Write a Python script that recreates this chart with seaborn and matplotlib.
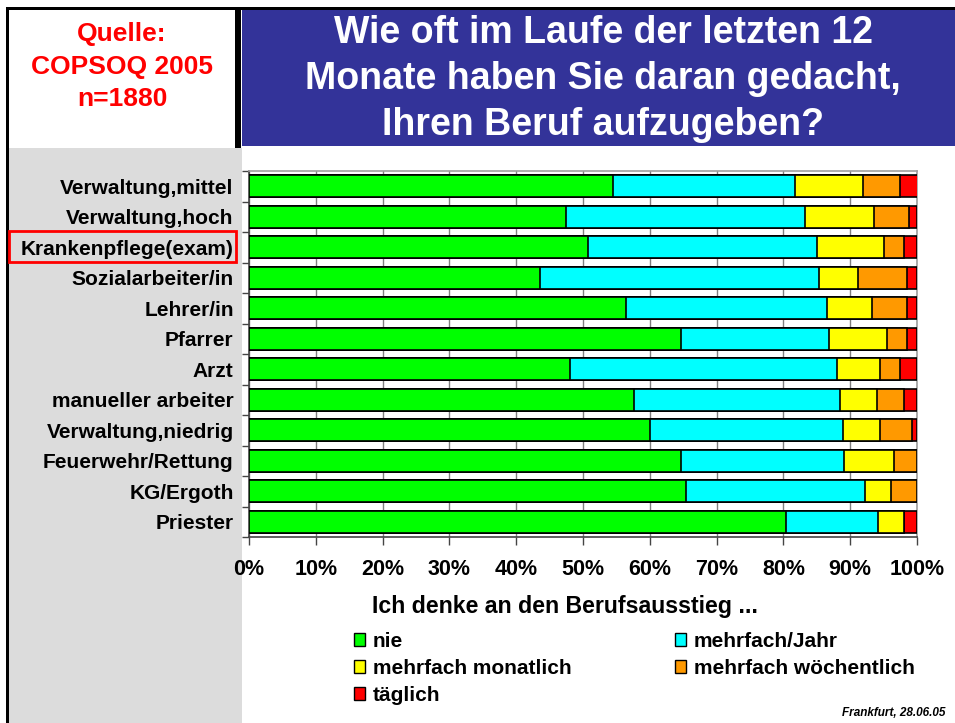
import matplotlib
matplotlib.use("Agg")
import matplotlib.pyplot as plt
from matplotlib.patches import Rectangle, Patch
from matplotlib.ticker import FixedLocator
import seaborn as sns
import numpy as np
import pandas as pd

categories = ["Verwaltung,mittel", "Verwaltung,hoch", "Krankenpflege(exam)",
              "Sozialarbeiter/in", "Lehrer/in", "Pfarrer", "Arzt",
              "manueller arbeiter", "Verwaltung,niedrig", "Feuerwehr/Rettung",
              "KG/Ergoth", "Priester"]
series_names = ["nie", "mehrfach/Jahr", "mehrfach monatlich",
                "mehrfach wöchentlich", "täglich"]
nie = [54.5, 47.5, 50.8, 43.5, 56.4, 64.7, 48.0, 57.6, 60.0, 64.7, 65.4, 80.4]
jahr = [27.3, 35.8, 34.3, 41.9, 30.1, 22.1, 40.0, 30.8, 28.9, 24.4, 26.8, 13.7]
monatlich = [10.1, 10.3, 9.9, 5.8, 6.8, 8.7, 6.5, 5.6, 5.6, 7.4, 3.9, 3.9]
woechentlich = [5.5, 5.2, 3.0, 7.3, 5.2, 3.0, 2.9, 4.0, 4.8, 3.5, 3.9, 0.0]
taeglich = [2.7, 1.2, 2.0, 1.5, 1.5, 1.5, 2.6, 2.0, 0.7, 0.0, 0.0, 2.0]
xticks = [0, 10, 20, 30, 40, 50, 60, 70, 80, 90, 100]
source_lines = ["Quelle:", "COPSOQ 2005", "n=1880"]
title_lines = ["Wie oft im Laufe der letzten 12",
               "Monate haben Sie daran gedacht,",
               "Ihren Beruf aufzugeben?"]

colors = ["#00ff00", "#00ffff", "#ffff00", "#ff9900", "#ff0000"]

sns.set_theme(style="white")
plt.rcParams["font.family"] = ["Liberation Sans", "DejaVu Sans"]
plt.rcParams["font.weight"] = "bold"
plt.rcParams["text.color"] = "black"
plt.rcParams["xtick.color"] = "#444444"
plt.rcParams["ytick.color"] = "#444444"
plt.rcParams["xtick.labelcolor"] = "black"
plt.rcParams["ytick.labelcolor"] = "black"

W, H = 955, 723
fig = plt.figure(figsize=(W / 100, H / 100), dpi=100)
fig.patch.set_facecolor("white")


def rect(x0, y0, x1, y1, **kw):
    r = Rectangle((x0 / W, 1 - y1 / H), (x1 - x0) / W, (y1 - y0) / H,
                  transform=fig.transFigure, **kw)
    fig.patches.append(r)
    return r


# background panels
rect(9, 148, 242, 723, facecolor="#dcdcdc", edgecolor="none", zorder=-2)
rect(242, 10, 955, 146, facecolor="#333399", edgecolor="none", zorder=-2)
rect(6, 7, 955, 10, facecolor="black", edgecolor="none", zorder=-1)
rect(6, 7, 9, 723, facecolor="black", edgecolor="none", zorder=-1)
rect(235, 8, 241, 148, facecolor="black", edgecolor="none", zorder=-1)

for y, line in zip([41, 74, 106], source_lines):
    fig.text(122 / W, 1 - y / H, line, color="#ff0000", fontsize=19,
             fontweight="bold", ha="center", va="baseline")
for y, line in zip([43, 89, 135], title_lines):
    fig.text(603 / W, 1 - y / H, line, color="white", fontsize=27,
             fontweight="bold", ha="center", va="baseline")

# main axes
ax = fig.add_axes([249 / W, 1 - 537 / H, 668 / W, 366 / H])
ax.set_facecolor("white")
ax.set_zorder(2)

df = pd.DataFrame({"Kategorie": categories, "nie": nie, "jahr": jahr,
                   "monatlich": monatlich, "woechentlich": woechentlich,
                   "taeglich": taeglich})
cols = ["nie", "jahr", "monatlich", "woechentlich", "taeglich"]
cum = df[cols].cumsum(axis=1)

for i in reversed(range(len(cols))):
    sns.barplot(x=cum[cols[i]], y=df["Kategorie"], orient="h",
                color=colors[i], saturation=1, width=0.72,
                edgecolor="black", linewidth=1.2, ax=ax, zorder=3)

ax.set_xlim(0, 100)
ax.set_ylim(len(categories) - 0.5, -0.5)
ax.set_xticks(xticks)
ax.set_xticklabels([f"{t}%" for t in xticks], fontsize=15.5, fontweight="bold")
ax.set_yticks(range(len(categories)))
ax.set_yticklabels(categories, fontsize=15, fontweight="bold")
ax.yaxis.set_minor_locator(FixedLocator(np.arange(-0.5, len(categories), 1)))
ax.tick_params(axis="y", which="major", length=0, pad=11)
ax.tick_params(axis="y", which="minor", length=5, width=1, color="#444444",
               left=True)
ax.tick_params(axis="x", which="major", length=6, width=1, color="#444444",
               bottom=True, pad=10)
ax.set_xlabel("")
ax.set_ylabel("")
ax.grid(axis="x", color="#808080", linewidth=1, zorder=0)
ax.grid(axis="y", visible=False)
ax.set_axisbelow(True)
for s in ["left", "bottom"]:
    ax.spines[s].set_color("#444444")
    ax.spines[s].set_linewidth(1.2)
for s in ["top", "right"]:
    ax.spines[s].set_color("#a0a0a0")
    ax.spines[s].set_linewidth(1.2)

# red box around Krankenpflege label
box = rect(9, 231, 236, 262, facecolor="none", edgecolor="#ff0000",
           linewidth=2, zorder=5)

fig.text(565 / W, 1 - 606 / H, "Ich denke an den Berufsausstieg ...",
         fontsize=16.7, fontweight="bold", ha="center", va="center")

handles = [Patch(facecolor=c, edgecolor="black", linewidth=1) for c in colors]
legkw = dict(loc="upper left", frameon=False,
             prop={"size": 15, "weight": "bold"},
             handlelength=0.55, handleheight=0.55, handletextpad=0.35,
             labelspacing=0.38, borderpad=0, borderaxespad=0)
leg1 = fig.legend([handles[0], handles[2], handles[4]],
                  [series_names[0], series_names[2], series_names[4]],
                  bbox_to_anchor=(354 / W, 1 - 632 / H), **legkw)
leg2 = fig.legend([handles[1], handles[3]],
                  [series_names[1], series_names[3]],
                  bbox_to_anchor=(675 / W, 1 - 632 / H), **legkw)

fig.text(945 / W, 1 - 713 / H, "Frankfurt, 28.06.05", fontsize=8.5,
         fontweight="bold", fontstyle="italic", ha="right", va="center")

fig.savefig("out.png", dpi=100)
